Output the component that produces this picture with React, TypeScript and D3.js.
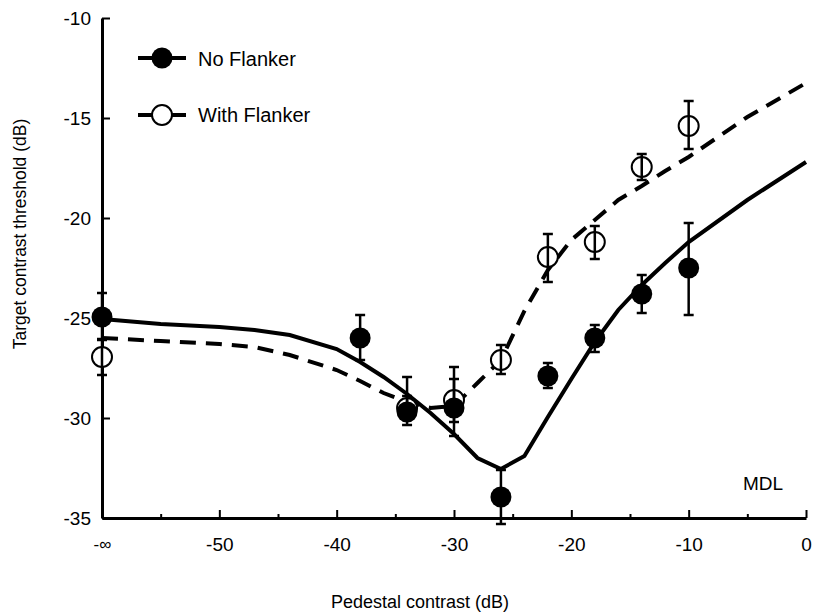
import React, { useEffect, useRef } from "react";
import * as d3 from "d3";

// -∞ pedestal is plotted at -60 dB
const xTicks = [-60, -50, -40, -30, -20, -10, 0];
const xTickLabels = ["-∞", "-50", "-40", "-30", "-20", "-10", "0"];
const xMinorTicks = [-55, -45, -35, -25, -15, -5];
const yTicks = [-35, -30, -25, -20, -15, -10];

const noFlankerX = [-60, -38, -34, -30, -26, -22, -18, -14, -10];
const noFlankerY = [-24.95, -26.0, -29.7, -29.5, -33.95, -27.9, -26.0, -23.8, -22.5];
const noFlankerHi = [-23.75, -24.85, -27.95, -28.05, -32.6, -27.25, -25.35, -22.85, -20.25];
const noFlankerLo = [-26.1, -27.1, -30.35, -30.9, -35.3, -28.5, -26.7, -24.75, -24.85];

const withFlankerX = [-60, -34, -30, -26, -22, -18, -14, -10];
const withFlankerY = [-26.95, -29.5, -29.1, -27.1, -21.95, -21.2, -17.45, -15.4];
const withFlankerHi = [-26.05, -28.9, -27.45, -26.35, -20.8, -20.4, -16.8, -14.15];
const withFlankerLo = [-27.85, -30.1, -30.2, -27.8, -23.2, -22.05, -18.1, -16.55];

const fitX = [-60, -55, -50, -47, -44, -40, -38, -36, -34, -32, -30, -28, -26, -24, -22, -20, -18, -16, -14, -12, -10, -5, 0];
const fitNoFlanker = [-25.05, -25.3, -25.45, -25.6, -25.85, -26.55, -27.2, -27.95, -28.8, -29.75, -30.8, -32.0, -32.55, -31.9, -29.95, -28.05, -26.2, -24.6, -23.35, -22.25, -21.2, -19.1, -17.2];
const fitWithFlanker = [-26.0, -26.15, -26.3, -26.45, -26.85, -27.6, -28.15, -28.75, -29.2, -29.5, -29.4, -28.25, -27.1, -24.65, -22.6, -21.1, -20.1, -19.1, -18.4, -17.65, -16.95, -14.95, -13.25];

const font = "Arial, 'Liberation Sans', sans-serif";

export default function App() {
  const xAxisRef = useRef<SVGGElement>(null);
  const xMinorRef = useRef<SVGGElement>(null);
  const yAxisRef = useRef<SVGGElement>(null);

  const x = d3.scaleLinear().domain([-60, 0]).range([102, 806]);
  const y = d3.scaleLinear().domain([-35, -10]).range([518, 18]);

  useEffect(() => {
    const xAxis = d3
      .axisBottom(x)
      .tickValues(xTicks)
      .tickSizeInner(-8)
      .tickSizeOuter(0)
      .tickPadding(20)
      .tickFormat((d, i) => xTickLabels[i]);
    const gx = d3.select(xAxisRef.current);
    gx.selectAll("*").remove();
    gx.call(xAxis);
    gx.select(".domain").attr("stroke-width", 3);
    gx.selectAll(".tick line").attr("stroke-width", 2);
    gx.selectAll(".tick text")
      .attr("font-size", (d: any) => (d === -60 ? 17 : 19))
      .attr("font-family", font)
      .attr("fill", "#000");

    const gm = d3.select(xMinorRef.current);
    gm.selectAll("*").remove();
    gm.call(
      d3.axisBottom(x).tickValues(xMinorTicks).tickSizeInner(-4).tickSizeOuter(0).tickFormat(() => "")
    );
    gm.select(".domain").remove();
    gm.selectAll(".tick line").attr("stroke-width", 2);

    const gy = d3.select(yAxisRef.current);
    gy.selectAll("*").remove();
    gy.call(
      d3
        .axisLeft(y)
        .tickValues(yTicks)
        .tickSizeInner(-8)
        .tickSizeOuter(0)
        .tickPadding(11)
        .tickFormat((d) => String(d))
    );
    gy.select(".domain").attr("stroke-width", 3);
    gy.selectAll(".tick line").attr("stroke-width", 2);
    gy.selectAll(".tick text").attr("font-size", 19).attr("font-family", font).attr("fill", "#000");
  }, []);

  const line = d3
    .line<number>()
    .x((d, i) => x(fitX[i]))
    .y((d) => y(d));

  const errorBar = (xv: number, hi: number, lo: number, key: string) => (
    <g key={key} stroke="#000" strokeWidth={2.5}>
      <line x1={x(xv)} x2={x(xv)} y1={y(hi)} y2={y(lo)} />
      <line x1={x(xv) - 5} x2={x(xv) + 5} y1={y(hi)} y2={y(hi)} />
      <line x1={x(xv) - 5} x2={x(xv) + 5} y1={y(lo)} y2={y(lo)} />
    </g>
  );

  return (
    <div style={{ position: "absolute", left: 0, top: 0 }}>
      <svg width={813} height={614} style={{ display: "block", background: "#fff" }}>
        <g ref={xMinorRef} transform={`translate(0,${y(-35)})`} />
        <g ref={xAxisRef} transform={`translate(0,${y(-35)})`} />
        <g ref={yAxisRef} transform={`translate(${x(-60)},0)`} />

        <path d={line(fitWithFlanker) || ""} fill="none" stroke="#000" strokeWidth={4} strokeDasharray="16 10" />
        <path d={line(fitNoFlanker) || ""} fill="none" stroke="#000" strokeWidth={4} />

        {withFlankerX.map((xv, i) => (
          <circle key={"wc" + i} cx={x(xv)} cy={y(withFlankerY[i])} r={10} fill="#fff" stroke="#000" strokeWidth={2} />
        ))}
        {withFlankerX.map((xv, i) => errorBar(xv, withFlankerHi[i], withFlankerLo[i], "we" + i))}
        {noFlankerX.map((xv, i) => errorBar(xv, noFlankerHi[i], noFlankerLo[i], "ne" + i))}
        {noFlankerX.map((xv, i) => (
          <circle key={"nc" + i} cx={x(xv)} cy={y(noFlankerY[i])} r={10.5} fill="#000" />
        ))}

        {/* legend */}
        <line x1={138} x2={186} y1={58} y2={58} stroke="#000" strokeWidth={4} />
        <circle cx={162} cy={58} r={10.5} fill="#000" />
        <text x={198} y={66} fontSize={20} fontFamily={font}>No Flanker</text>
        <line x1={138} x2={186} y1={115} y2={115} stroke="#000" strokeWidth={4} />
        <circle cx={162} cy={115} r={10} fill="#fff" stroke="#000" strokeWidth={2} />
        <text x={198} y={122} fontSize={20} fontFamily={font}>With Flanker</text>

        <text x={743} y={490} fontSize={19} fontFamily={font}>MDL</text>

        <text x={420} y={608} fontSize={18} fontFamily={font} textAnchor="middle">
          Pedestal contrast (dB)
        </text>
        <text
          transform="translate(26,234) rotate(-90)"
          fontSize={17.5}
          fontFamily={font}
          textAnchor="middle"
        >
          Target contrast threshold (dB)
        </text>
      </svg>
    </div>
  );
}
